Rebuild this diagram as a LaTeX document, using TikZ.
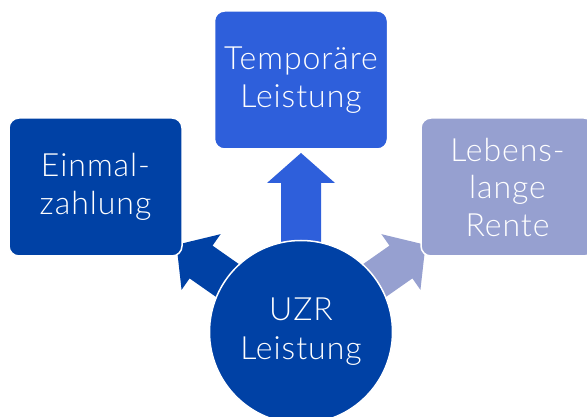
\documentclass[tikz,border=0pt]{standalone}
\usepackage{fontspec}
\setmainfont{Lato Light}[LetterSpace=3]
\usetikzlibrary{backgrounds}
\definecolor{uzrdark}{RGB}{0,65,165}
\definecolor{uzrmid}{RGB}{46,95,219}
\definecolor{uzrlight}{RGB}{150,160,208}

\begin{document}
\begin{tikzpicture}[x=1pt,y=1pt,
  box/.style={rectangle,rounded corners=10pt,draw=white,line width=1.5pt,text=white,align=center,minimum width=173pt,minimum height=138pt,inner sep=0pt,font=\fontsize{32}{37.5}\selectfont},
  hub/.style={circle,draw=white,line width=1.5pt,fill=uzrdark,text=white,align=center,minimum size=183pt,inner sep=0pt,font=\fontsize{32}{39}\selectfont}]
\useasboundingbox (0,0) rectangle (587,417);

\node[box,fill=uzrmid] (temp) at (301,337) {Tempor\"are\\Leistung};
\node[box,fill=uzrdark] (einmal) at (95.5,230) {Einmal-\\zahlung};
\node[box,fill=uzrlight] (rente) at (507.5,230) {Lebens-\\lange\\Rente};

\node[hub] (uzr) at (301,85) {UZR\\Leistung};

% block arrows behind the boxes
\begin{pgfonlayer}{background}
\foreach \a/\col/\rb in {90/uzrmid/149, 145/uzrdark/122, 35/uzrlight/122}
  \fill[\col,shift={(uzr.center)},rotate=\a] (60,-20) -- (\rb,-20) -- (\rb,-34) -- (\rb+30,0) -- (\rb,34) -- (\rb,20) -- (60,20) -- cycle;
\end{pgfonlayer}
\end{tikzpicture}
\end{document}
